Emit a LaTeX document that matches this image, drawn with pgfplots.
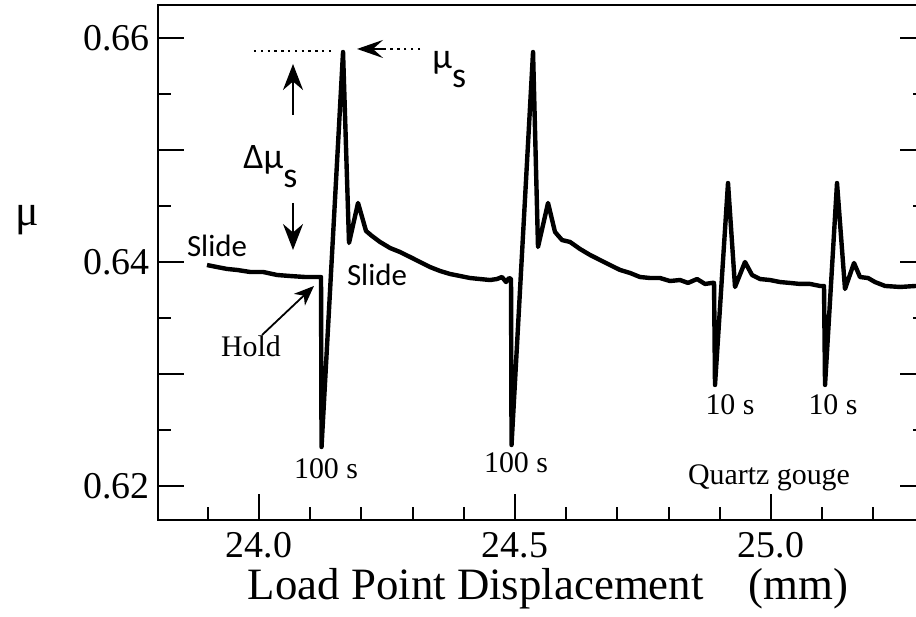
\documentclass[border=0pt]{standalone}
\usepackage{fontspec}
\setmainfont{Liberation Serif}
\newfontfamily\calib{Carlito}
\usepackage{pgfplots}
\usepackage{pgfplotstable}
\pgfplotsset{compat=1.18}
\usetikzlibrary{arrows.meta}

\pgfplotstableread{
x y
23.8984 0.63973
23.9180 0.63955
23.9375 0.63938
23.9570 0.63929
23.9824 0.63911
24.0078 0.63911
24.0352 0.63884
24.0605 0.63875
24.0898 0.63866
24.1152 0.63866
24.1211 0.63866
24.1221 0.62348
24.1641 0.65875
24.1758 0.64170
24.1934 0.64527
24.2090 0.64277
24.2207 0.64232
24.2363 0.64179
24.2559 0.64125
24.2754 0.64089
24.2949 0.64045
24.3145 0.64000
24.3340 0.63955
24.3535 0.63920
24.3730 0.63893
24.3926 0.63875
24.4121 0.63857
24.4316 0.63848
24.4512 0.63839
24.4648 0.63848
24.4746 0.63866
24.4824 0.63821
24.4883 0.63857
24.4922 0.63848
24.4932 0.62366
24.5352 0.65875
24.5449 0.64134
24.5645 0.64527
24.5781 0.64268
24.5918 0.64196
24.6074 0.64179
24.6270 0.64116
24.6465 0.64063
24.6660 0.64018
24.6855 0.63973
24.7051 0.63929
24.7246 0.63902
24.7441 0.63866
24.7637 0.63857
24.7832 0.63857
24.8027 0.63830
24.8223 0.63839
24.8379 0.63813
24.8555 0.63848
24.8711 0.63804
24.8848 0.63813
24.8887 0.63813
24.8906 0.62902
24.9160 0.64705
24.9297 0.63777
24.9492 0.64000
24.9629 0.63884
24.9785 0.63848
24.9980 0.63839
25.0176 0.63821
25.0371 0.63813
25.0566 0.63804
25.0762 0.63804
25.0957 0.63786
25.1035 0.63786
25.1055 0.62902
25.1289 0.64705
25.1445 0.63759
25.1621 0.63991
25.1738 0.63866
25.1895 0.63857
25.2031 0.63821
25.2227 0.63786
25.2520 0.63777
25.2832 0.63786
}\curve

\begin{document}
\begin{tikzpicture}
\begin{axis}[
  scale only axis, width=384bp, height=257.5bp,
  at={(0,0)}, anchor=south west,
  xmin=23.8027, xmax=25.3027, ymin=0.616964, ymax=0.662946,
  clip=false,
  axis line style={line width=1.2bp},
  every tick/.style={line width=1bp, black},
  major tick length=13bp, minor tick length=6.5bp,
  tick align=inside,
  xtick pos=left, ytick pos=both,
  xtick={24,24.5,25}, xticklabels={24.0,24.5,25.0},
  minor xtick={23.9,24.1,24.2,24.3,24.4,24.6,24.7,24.8,24.9,25.1,25.2},
  ytick={0.62,0.63,0.64,0.65,0.66}, yticklabels={0.62,,0.64,,0.66},
  minor ytick={0.625,0.635,0.645,0.655},
  ticklabel style={font=\fontsize{19}{20}\selectfont},
  xticklabel style={anchor=north, inner sep=0pt, yshift=-6bp},
  yticklabel style={anchor=east, inner sep=0pt, xshift=-4bp},
  xlabel={Load Point Displacement\quad(mm)},
  xlabel style={font=\fontsize{22.5}{24}\selectfont, at={(axis description cs:0.5078,-0.1540)}, anchor=base, inner sep=0pt},
  ylabel={μ},
  ylabel style={font=\fontsize{22}{24}\selectfont, at={(axis description cs:-0.1706,0.5825)}, anchor=center, rotate=-90, inner sep=0pt},
]
\addplot[black, line width=2.2bp, line join=round, no markers] table[x=x, y=y] {\curve};

% annotations
\draw[line width=0.8bp, dash pattern=on 1.2bp off 2.2bp] (axis cs:23.9902,0.65884) -- (axis cs:24.1445,0.65884);
\draw[line width=0.8bp, dash pattern=on 1.2bp off 2.2bp] (axis cs:24.3145,0.65902) -- (axis cs:24.2400,0.65902);
\draw[line width=1bp, -{Stealth[length=13bp,width=9bp,inset=5bp]}] (axis cs:24.2450,0.65902) -- (axis cs:24.1914,0.65902);
\draw[line width=1.1bp, -{Stealth[length=13bp,width=10bp]}] (axis cs:24.0664,0.65313) -- (axis cs:24.0664,0.65768);
\draw[line width=1.1bp, -{Stealth[length=13bp,width=10bp]}] (axis cs:24.0664,0.64527) -- (axis cs:24.0664,0.64107);
\draw[line width=0.9bp, -{Stealth[length=10bp,width=8bp,inset=3bp]}] (axis cs:24.0059,0.63348) -- (axis cs:24.1074,0.63786);

\node[anchor=base west, inner sep=0pt, font=\calib\fontsize{18}{19}\selectfont] at (axis cs:24.3379,0.65732) {μ\raisebox{-9.5bp}{s}};
\node[anchor=base west, inner sep=0pt, font=\calib\fontsize{18}{19}\selectfont] at (axis cs:23.9688,0.64839) {Δμ\raisebox{-9.5bp}{s}};
\node[inner sep=0pt, font=\calib\fontsize{15.5}{16}\selectfont] at (axis cs:23.918,0.64143) {Slide};
\node[inner sep=0pt, font=\calib\fontsize{15.5}{16}\selectfont] at (axis cs:24.2305,0.63884) {Slide};
\node[inner sep=0pt, font=\fontsize{15}{16}\selectfont] at (axis cs:23.9844,0.6325) {Hold};
\node[inner sep=0pt, font=\fontsize{15}{16}\selectfont] at (axis cs:24.1309,0.62152) {100 s};
\node[inner sep=0pt, font=\fontsize{15}{16}\selectfont] at (axis cs:24.502,0.62205) {100 s};
\node[inner sep=0pt, font=\fontsize{15}{16}\selectfont] at (axis cs:24.9199,0.62723) {10 s};
\node[inner sep=0pt, font=\fontsize{15}{16}\selectfont] at (axis cs:25.1211,0.62723) {10 s};
\node[inner sep=0pt, font=\fontsize{15}{16}\selectfont] at (axis cs:24.9961,0.62071) {Quartz gouge};
\end{axis}
\pgfresetboundingbox
\useasboundingbox (-79bp,-48.5bp) rectangle (379bp,260bp);
\end{tikzpicture}
\end{document}
